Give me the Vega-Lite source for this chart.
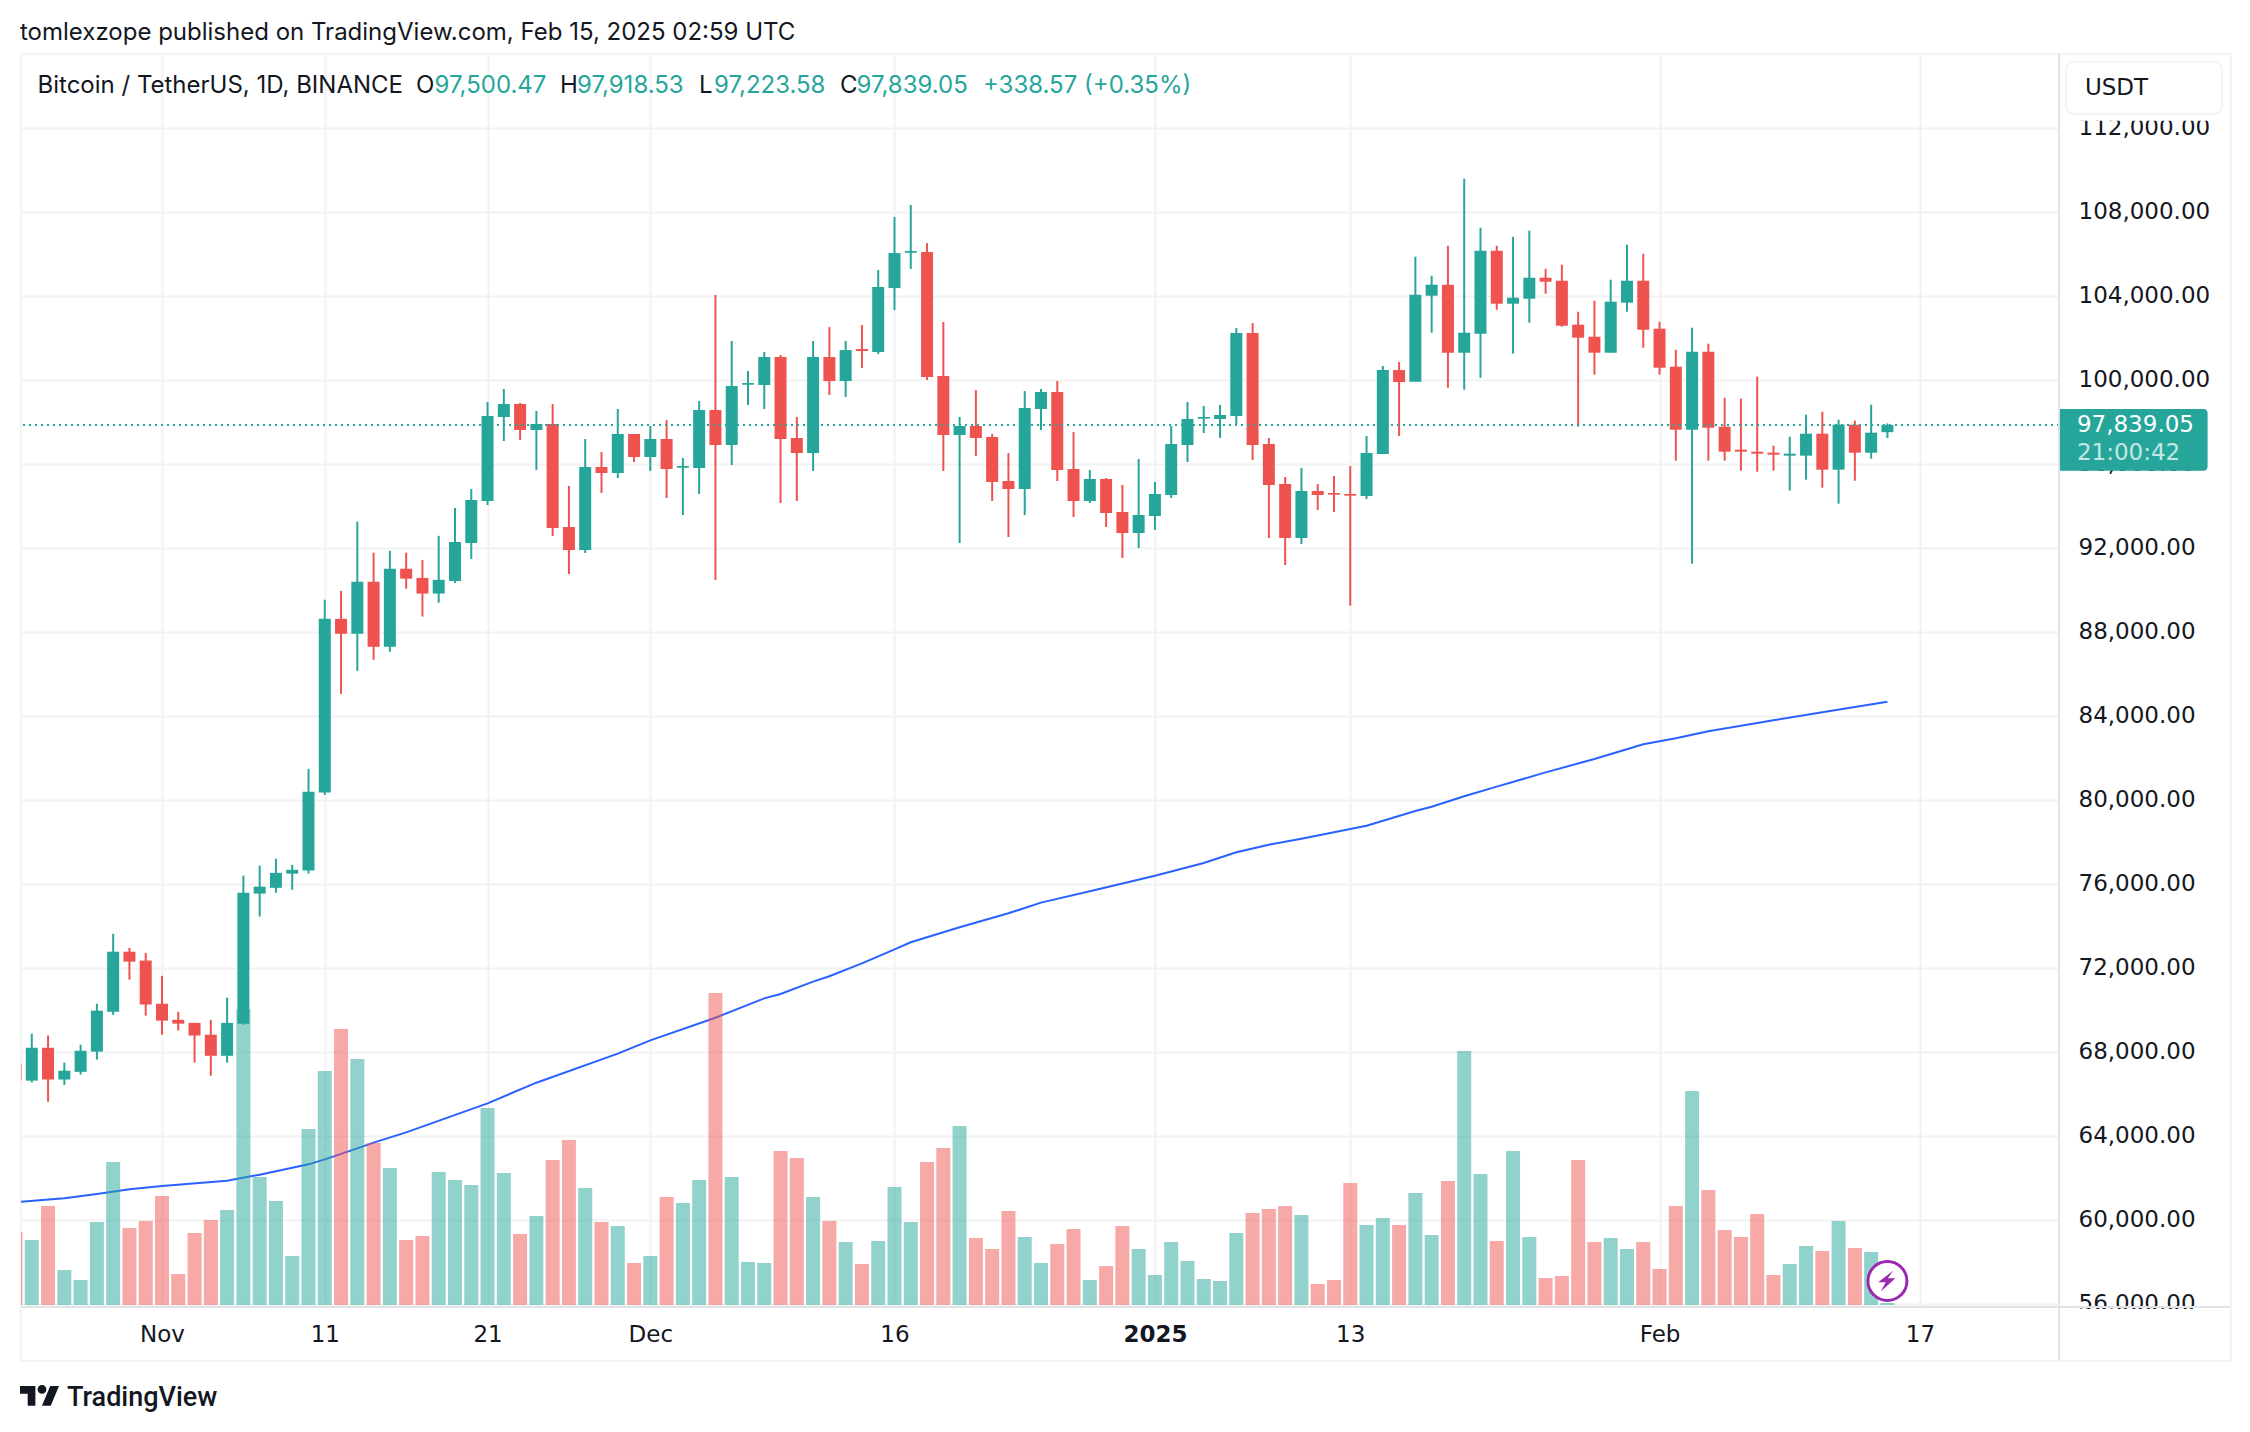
{
  "$schema": "https://vega.github.io/schema/vega-lite/v6.json",
  "width": 2038,
  "height": 1253,
  "autosize": "none",
  "padding": {"left": 21, "top": 54, "right": 191, "bottom": 125},
  "background": "#ffffff",
  "config": {
    "view": {"stroke": "#f3f3f3", "strokeWidth": 2},
    "text": {"font": "Inter", "fontSize": 24, "align": "left", "baseline": "middle", "color": "#131722"}
  },
  "datasets": {
    "candles": [
      {"date":"2024-10-23","open":67421,"high":67700,"low":66000,"close":66620,"volume":73},
      {"date":"2024-10-24","open":66620,"high":68861,"low":66528,"close":68186,"volume":65},
      {"date":"2024-10-25","open":68186,"high":68770,"low":65617,"close":66674,"volume":99},
      {"date":"2024-10-26","open":66674,"high":67476,"low":66419,"close":67093,"volume":35},
      {"date":"2024-10-27","open":67039,"high":68332,"low":66911,"close":68041,"volume":25},
      {"date":"2024-10-28","open":68000,"high":70282,"low":67622,"close":69954,"volume":83},
      {"date":"2024-10-29","open":69899,"high":73616,"low":69753,"close":72760,"volume":143},
      {"date":"2024-10-30","open":72760,"high":72942,"low":71430,"close":72286,"volume":77},
      {"date":"2024-10-31","open":72341,"high":72705,"low":69717,"close":70245,"volume":84},
      {"date":"2024-11-01","open":70282,"high":71612,"low":68806,"close":69480,"volume":109},
      {"date":"2024-11-02","open":69517,"high":69899,"low":69006,"close":69334,"volume":31},
      {"date":"2024-11-03","open":69371,"high":69371,"low":67476,"close":68769,"volume":72},
      {"date":"2024-11-04","open":68806,"high":69517,"low":66856,"close":67804,"volume":85},
      {"date":"2024-11-05","open":67804,"high":70573,"low":67476,"close":69371,"volume":95},
      {"date":"2024-11-06","open":69334,"high":76385,"low":69279,"close":75566,"volume":296},
      {"date":"2024-11-07","open":75529,"high":76859,"low":74436,"close":75857,"volume":128},
      {"date":"2024-11-08","open":75802,"high":77187,"low":75566,"close":76513,"volume":104},
      {"date":"2024-11-09","open":76477,"high":76896,"low":75711,"close":76659,"volume":49},
      {"date":"2024-11-10","open":76622,"high":81469,"low":76477,"close":80376,"volume":176},
      {"date":"2024-11-11","open":80339,"high":89522,"low":80230,"close":88611,"volume":234},
      {"date":"2024-11-12","open":88611,"high":89941,"low":85040,"close":87900,"volume":276},
      {"date":"2024-11-13","open":87900,"high":93239,"low":86133,"close":90378,"volume":246},
      {"date":"2024-11-14","open":90378,"high":91763,"low":86662,"close":87281,"volume":162},
      {"date":"2024-11-15","open":87281,"high":91854,"low":87044,"close":90998,"volume":137},
      {"date":"2024-11-16","open":90998,"high":91763,"low":90050,"close":90524,"volume":65},
      {"date":"2024-11-17","open":90561,"high":91417,"low":88720,"close":89814,"volume":69},
      {"date":"2024-11-18","open":89814,"high":92565,"low":89376,"close":90470,"volume":133},
      {"date":"2024-11-19","open":90415,"high":93890,"low":90319,"close":92271,"volume":125},
      {"date":"2024-11-20","open":92224,"high":94795,"low":91462,"close":94271,"volume":120},
      {"date":"2024-11-21","open":94223,"high":98937,"low":94033,"close":98270,"volume":197},
      {"date":"2024-11-22","open":98223,"high":99556,"low":97080,"close":98841,"volume":132},
      {"date":"2024-11-23","open":98841,"high":98889,"low":97128,"close":97604,"volume":71},
      {"date":"2024-11-24","open":97604,"high":98508,"low":95699,"close":97889,"volume":89},
      {"date":"2024-11-25","open":97889,"high":98841,"low":92557,"close":92938,"volume":145},
      {"date":"2024-11-26","open":92985,"high":94937,"low":90748,"close":91890,"volume":165},
      {"date":"2024-11-27","open":91890,"high":97175,"low":91748,"close":95842,"volume":117},
      {"date":"2024-11-28","open":95842,"high":96556,"low":94604,"close":95556,"volume":83},
      {"date":"2024-11-29","open":95556,"high":98603,"low":95318,"close":97413,"volume":79},
      {"date":"2024-11-30","open":97413,"high":97413,"low":96080,"close":96318,"volume":42},
      {"date":"2024-12-01","open":96318,"high":97794,"low":95652,"close":97175,"volume":49},
      {"date":"2024-12-02","open":97175,"high":98080,"low":94366,"close":95747,"volume":108},
      {"date":"2024-12-03","open":95810,"high":96271,"low":93557,"close":95890,"volume":102},
      {"date":"2024-12-04","open":95794,"high":98984,"low":94557,"close":98556,"volume":125},
      {"date":"2024-12-05","open":98556,"high":104031,"low":90462,"close":96889,"volume":312},
      {"date":"2024-12-06","open":96889,"high":101841,"low":95937,"close":99698,"volume":128},
      {"date":"2024-12-07","open":99762,"high":100413,"low":98794,"close":99841,"volume":43},
      {"date":"2024-12-08","open":99746,"high":101317,"low":98603,"close":101079,"volume":42},
      {"date":"2024-12-09","open":101079,"high":101174,"low":94128,"close":97175,"volume":154},
      {"date":"2024-12-10","open":97223,"high":98223,"low":94223,"close":96509,"volume":147},
      {"date":"2024-12-11","open":96509,"high":101841,"low":95652,"close":101079,"volume":108},
      {"date":"2024-12-12","open":101079,"high":102507,"low":99270,"close":99937,"volume":84},
      {"date":"2024-12-13","open":99937,"high":101841,"low":99175,"close":101412,"volume":63},
      {"date":"2024-12-14","open":101460,"high":102603,"low":100555,"close":101365,"volume":41},
      {"date":"2024-12-15","open":101317,"high":105221,"low":101222,"close":104412,"volume":64},
      {"date":"2024-12-16","open":104364,"high":107745,"low":103317,"close":106031,"volume":118},
      {"date":"2024-12-17","open":106046,"high":108316,"low":105269,"close":106126,"volume":83},
      {"date":"2024-12-18","open":106078,"high":106507,"low":99984,"close":100127,"volume":143},
      {"date":"2024-12-19","open":100175,"high":102746,"low":95652,"close":97366,"volume":157},
      {"date":"2024-12-20","open":97366,"high":98223,"low":92224,"close":97794,"volume":179},
      {"date":"2024-12-21","open":97794,"high":99508,"low":96366,"close":97223,"volume":67},
      {"date":"2024-12-22","open":97270,"high":97413,"low":94223,"close":95128,"volume":56},
      {"date":"2024-12-23","open":95176,"high":96509,"low":92509,"close":94795,"volume":94},
      {"date":"2024-12-24","open":94795,"high":99460,"low":93557,"close":98651,"volume":68},
      {"date":"2024-12-25","open":98603,"high":99556,"low":97604,"close":99413,"volume":42},
      {"date":"2024-12-26","open":99413,"high":99937,"low":95176,"close":95699,"volume":61},
      {"date":"2024-12-27","open":95747,"high":97508,"low":93462,"close":94223,"volume":76},
      {"date":"2024-12-28","open":94223,"high":95699,"low":94128,"close":95271,"volume":25},
      {"date":"2024-12-29","open":95271,"high":95318,"low":92985,"close":93652,"volume":39},
      {"date":"2024-12-30","open":93700,"high":94985,"low":91510,"close":92700,"volume":79},
      {"date":"2024-12-31","open":92700,"high":96223,"low":91986,"close":93557,"volume":56},
      {"date":"2025-01-01","open":93509,"high":95128,"low":92843,"close":94557,"volume":30},
      {"date":"2025-01-02","open":94509,"high":97794,"low":94366,"close":96937,"volume":63},
      {"date":"2025-01-03","open":96889,"high":98937,"low":96080,"close":98127,"volume":44},
      {"date":"2025-01-04","open":98143,"high":98746,"low":97461,"close":98223,"volume":26},
      {"date":"2025-01-05","open":98127,"high":98794,"low":97223,"close":98318,"volume":24},
      {"date":"2025-01-06","open":98270,"high":102460,"low":97889,"close":102222,"volume":72},
      {"date":"2025-01-07","open":102222,"high":102698,"low":96175,"close":96889,"volume":92},
      {"date":"2025-01-08","open":96937,"high":97223,"low":92462,"close":94985,"volume":96},
      {"date":"2025-01-09","open":95033,"high":95366,"low":91176,"close":92462,"volume":99},
      {"date":"2025-01-10","open":92462,"high":95794,"low":92176,"close":94699,"volume":90},
      {"date":"2025-01-11","open":94699,"high":95033,"low":93795,"close":94509,"volume":21},
      {"date":"2025-01-12","open":94604,"high":95414,"low":93700,"close":94525,"volume":25},
      {"date":"2025-01-13","open":94557,"high":95890,"low":89243,"close":94477,"volume":122},
      {"date":"2025-01-14","open":94461,"high":97318,"low":94319,"close":96509,"volume":80},
      {"date":"2025-01-15","open":96461,"high":100651,"low":96461,"close":100460,"volume":87},
      {"date":"2025-01-16","open":100460,"high":100841,"low":97318,"close":99889,"volume":80},
      {"date":"2025-01-17","open":99905,"high":105856,"low":99905,"close":104047,"volume":112},
      {"date":"2025-01-18","open":103999,"high":104951,"low":102238,"close":104523,"volume":70},
      {"date":"2025-01-19","open":104523,"high":106380,"low":99619,"close":101285,"volume":124},
      {"date":"2025-01-20","open":101285,"high":109570,"low":99524,"close":102238,"volume":254},
      {"date":"2025-01-21","open":102190,"high":107237,"low":100095,"close":106142,"volume":131},
      {"date":"2025-01-22","open":106142,"high":106380,"low":103333,"close":103618,"volume":64},
      {"date":"2025-01-23","open":103618,"high":106808,"low":101238,"close":103904,"volume":154},
      {"date":"2025-01-24","open":103856,"high":107094,"low":102714,"close":104856,"volume":68},
      {"date":"2025-01-25","open":104856,"high":105285,"low":104094,"close":104666,"volume":27},
      {"date":"2025-01-26","open":104713,"high":105475,"low":102523,"close":102571,"volume":29},
      {"date":"2025-01-27","open":102619,"high":103237,"low":97762,"close":102000,"volume":145},
      {"date":"2025-01-28","open":102047,"high":103761,"low":100238,"close":101285,"volume":63},
      {"date":"2025-01-29","open":101285,"high":104761,"low":101285,"close":103714,"volume":67},
      {"date":"2025-01-30","open":103666,"high":106427,"low":103237,"close":104713,"volume":56},
      {"date":"2025-01-31","open":104713,"high":105999,"low":101524,"close":102380,"volume":63},
      {"date":"2025-02-01","open":102428,"high":102761,"low":100238,"close":100571,"volume":36},
      {"date":"2025-02-02","open":100619,"high":101428,"low":96144,"close":97620,"volume":99},
      {"date":"2025-02-03","open":97620,"high":102476,"low":91240,"close":101333,"volume":214},
      {"date":"2025-02-04","open":101333,"high":101714,"low":96144,"close":97715,"volume":115},
      {"date":"2025-02-05","open":97762,"high":99143,"low":96144,"close":96572,"volume":75},
      {"date":"2025-02-06","open":96667,"high":99095,"low":95667,"close":96572,"volume":68},
      {"date":"2025-02-07","open":96572,"high":100143,"low":95620,"close":96477,"volume":91},
      {"date":"2025-02-08","open":96524,"high":96858,"low":95667,"close":96429,"volume":30},
      {"date":"2025-02-09","open":96382,"high":97286,"low":94715,"close":96477,"volume":41},
      {"date":"2025-02-10","open":96382,"high":98334,"low":95239,"close":97429,"volume":59},
      {"date":"2025-02-11","open":97429,"high":98476,"low":94858,"close":95715,"volume":54},
      {"date":"2025-02-12","open":95715,"high":98096,"low":94096,"close":97858,"volume":84},
      {"date":"2025-02-13","open":97858,"high":98048,"low":95191,"close":96524,"volume":57},
      {"date":"2025-02-14","open":96524,"high":98810,"low":96239,"close":97477,"volume":53},
      {"date":"2025-02-15","open":97500.47,"high":97918.53,"low":97223.58,"close":97839.05,"volume":2}
    ],
    "ma": [
      {"date":"2024-10-23","ma":60830},{"date":"2024-10-26","ma":61016},{"date":"2024-10-28","ma":61223},
      {"date":"2024-10-30","ma":61445},{"date":"2024-11-01","ma":61604},{"date":"2024-11-05","ma":61858},
      {"date":"2024-11-07","ma":62143},{"date":"2024-11-09","ma":62476},{"date":"2024-11-10","ma":62635},
      {"date":"2024-11-11","ma":62873},{"date":"2024-11-13","ma":63397},{"date":"2024-11-14","ma":63667},
      {"date":"2024-11-16","ma":64159},{"date":"2024-11-21","ma":65539},{"date":"2024-11-24","ma":66523},
      {"date":"2024-11-29","ma":67904},{"date":"2024-12-01","ma":68539},{"date":"2024-12-05","ma":69618},
      {"date":"2024-12-08","ma":70538},{"date":"2024-12-09","ma":70749},{"date":"2024-12-11","ma":71336},
      {"date":"2024-12-12","ma":71590},{"date":"2024-12-14","ma":72208},{"date":"2024-12-16","ma":72875},
      {"date":"2024-12-17","ma":73208},{"date":"2024-12-18","ma":73446},{"date":"2024-12-20","ma":73922},
      {"date":"2024-12-23","ma":74589},{"date":"2024-12-25","ma":75097},{"date":"2024-12-28","ma":75636},
      {"date":"2025-01-01","ma":76382},{"date":"2025-01-04","ma":76985},{"date":"2025-01-06","ma":77493},
      {"date":"2025-01-08","ma":77858},{"date":"2025-01-10","ma":78144},{"date":"2025-01-13","ma":78604},
      {"date":"2025-01-14","ma":78763},{"date":"2025-01-17","ma":79461},{"date":"2025-01-18","ma":79667},
      {"date":"2025-01-20","ma":80160},{"date":"2025-01-22","ma":80620},{"date":"2025-01-25","ma":81302},
      {"date":"2025-01-28","ma":81937},{"date":"2025-01-31","ma":82635},{"date":"2025-02-02","ma":82921},
      {"date":"2025-02-04","ma":83254},{"date":"2025-02-08","ma":83778},{"date":"2025-02-11","ma":84159},
      {"date":"2025-02-15","ma":84667}
    ]
  },
  "data": {"name": "candles"},
  "resolve": {"scale": {"y": "independent"}},
  "layer": [
    {
      "layer": [
        {
          "data": {"name": "ma"},
          "mark": {"type": "line", "color": "#2962ff", "strokeWidth": 2, "clip": true},
          "encoding": {
            "x": {
              "field": "date", "type": "temporal", "title": null,
              "scale": {"type": "utc", "padding": 0, "domain": [{"year":2024,"month":10,"date":23,"hours":8,"minutes":7,"utc":true}, {"year":2025,"month":2,"date":25,"hours":12,"minutes":58,"utc":true}], "nice": false},
              "axis": {
                "values": [{"year":2024,"month":11,"date":1,"utc":true},{"year":2024,"month":11,"date":11,"utc":true},{"year":2024,"month":11,"date":21,"utc":true},{"year":2024,"month":12,"date":1,"utc":true},{"year":2024,"month":12,"date":16,"utc":true},{"year":2025,"month":1,"date":1,"utc":true},{"year":2025,"month":1,"date":13,"utc":true},{"year":2025,"month":2,"date":1,"utc":true},{"year":2025,"month":2,"date":17,"utc":true}],
                "labelExpr": "utcdate(datum.value)==1 ? (utcmonth(datum.value)==0 ? utcFormat(datum.value,'%Y') : utcFormat(datum.value,'%b')) : utcdate(datum.value)",
                "labelFontWeight": {"condition": {"test": "utcmonth(datum.value)==0 && utcdate(datum.value)==1", "value": 700}, "value": 400},
                "labelFont": "DejaVu Sans", "labelFontSize": 23, "labelColor": "#131722", "labelPadding": 16, "labelOverlap": false, "labelBound": false, "labelFlush": false,
                "ticks": false, "domain": false, "grid": true, "gridColor": "#f2f2f3", "gridWidth": 2
              }
            },
            "y": {
              "field": "ma", "type": "quantitative", "title": null,
              "scale": {"domain": [55841, 115510], "nice": false, "zero": false},
              "axis": {
                "orient": "right", "values": [56000,60000,64000,68000,72000,76000,80000,84000,88000,92000,96000,100000,104000,108000,112000],
                "format": ",.2f", "labelFont": "DejaVu Sans", "labelFontSize": 23, "labelColor": "#131722", "labelPadding": 19, "labelOverlap": false, "labelBound": false, "labelFlush": false,
                "ticks": false, "domain": false, "grid": true, "gridColor": "#f2f2f3", "gridWidth": 2
              }
            }
          }
        }
      ]
    },
    {
      "mark": {"type": "bar", "size": 14, "opacity": 0.5, "clip": true},
      "encoding": {
        "x": {"field": "date", "type": "temporal"},
        "y": {"field": "volume", "type": "quantitative", "axis": null, "scale": {"domain": [-2, 1251], "nice": false, "zero": false}},
        "y2": {"datum": 0},
        "color": {"condition": {"test": "datum.close < datum.open", "value": "#ef5350"}, "value": "#26a69a"}
      }
    },
    {
      "layer": [
        {
          "mark": {"type": "rule", "strokeWidth": 2, "clip": true},
          "encoding": {
            "x": {"field": "date", "type": "temporal"},
            "y": {"field": "high", "type": "quantitative", "axis": null, "scale": {"domain": [55841, 115510], "nice": false, "zero": false}},
            "y2": {"field": "low"},
            "color": {"condition": {"test": "datum.close < datum.open", "value": "#ef5350"}, "value": "#26a69a"}
          }
        },
        {
          "mark": {"type": "bar", "size": 12, "clip": true},
          "encoding": {
            "x": {"field": "date", "type": "temporal"},
            "y": {"field": "open", "type": "quantitative", "axis": null},
            "y2": {"field": "close"},
            "color": {"condition": {"test": "datum.close < datum.open", "value": "#ef5350"}, "value": "#26a69a"}
          }
        },
        {
          "data": {"values": [{}]},
          "layer": [
            {
              "mark": {"type": "rule", "color": "#26a69a", "strokeWidth": 2, "strokeDash": [2, 4]},
              "encoding": {"y": {"datum": 97839.05, "axis": null}}
            },
            {
              "mark": {"type": "rect", "fill": "#ffffff"},
              "encoding": {
                "x": {"datum": {"year":2025,"month":2,"date":25,"hours":16,"utc":true}},
                "x2": {"datum": {"year":2025,"month":3,"date":7,"hours":22,"utc":true}},
                "y": {"datum": 55746, "axis": null},
                "y2": {"datum": 54746}
              }
            },
            {
              "mark": {"type": "rule", "color": "#e2e3e6", "strokeWidth": 2},
              "encoding": {
                "x": {"datum": {"year":2025,"month":2,"date":25,"hours":12,"minutes":58,"utc":true}},
                "y": {"datum": 115510, "axis": null},
                "y2": {"datum": 53270}
              }
            },
            {
              "mark": {"type": "rule", "color": "#e2e3e6", "strokeWidth": 2},
              "encoding": {
                "x": {"datum": {"year":2024,"month":10,"date":23,"hours":8,"minutes":7,"utc":true}},
                "x2": {"datum": {"year":2025,"month":3,"date":8,"hours":2,"minutes":24,"utc":true}},
                "y": {"datum": 55841, "axis": null}
              }
            },
            {
              "mark": {"type": "rule", "color": "#f3f3f3", "strokeWidth": 2},
              "encoding": {
                "x": {"datum": {"year":2025,"month":3,"date":8,"hours":2,"minutes":24,"utc":true}},
                "y": {"datum": 115510, "axis": null},
                "y2": {"datum": 53270}
              }
            },
            {
              "mark": {"type": "rule", "color": "#f3f3f3", "strokeWidth": 2},
              "encoding": {
                "x": {"datum": {"year":2025,"month":2,"date":25,"hours":12,"minutes":58,"utc":true}},
                "x2": {"datum": {"year":2025,"month":3,"date":8,"hours":2,"minutes":24,"utc":true}},
                "y": {"datum": 115510, "axis": null}
              }
            },
            {
              "mark": {"type": "rule", "color": "#f3f3f3", "strokeWidth": 2},
              "encoding": {
                "x": {"datum": {"year":2024,"month":10,"date":23,"hours":8,"minutes":7,"utc":true}},
                "x2": {"datum": {"year":2025,"month":3,"date":8,"hours":2,"minutes":24,"utc":true}},
                "y": {"datum": 53270, "axis": null}
              }
            },
            {
              "mark": {"type": "rule", "color": "#f3f3f3", "strokeWidth": 2},
              "encoding": {
                "x": {"datum": {"year":2024,"month":10,"date":23,"hours":8,"minutes":7,"utc":true}},
                "y": {"datum": 55841, "axis": null},
                "y2": {"datum": 53270}
              }
            },
            {
              "mark": {"type": "rect", "fill": "#ffffff"},
              "encoding": {
                "x": {"datum": {"year":2025,"month":2,"date":25,"hours":23,"minutes":17,"utc":true}},
                "x2": {"datum": {"year":2025,"month":3,"date":7,"hours":13,"minutes":12,"utc":true}},
                "y": {"datum": 112653, "axis": null},
                "y2": {"datum": 112334}
              }
            },
            {
              "mark": {"type": "rect", "fill": "#ffffff", "stroke": "#f0f1f3", "strokeWidth": 1.5, "cornerRadius": 8},
              "encoding": {
                "x": {"datum": {"year":2025,"month":2,"date":25,"hours":23,"minutes":17,"utc":true}},
                "x2": {"datum": {"year":2025,"month":3,"date":7,"hours":13,"minutes":12,"utc":true}},
                "y": {"datum": 115143, "axis": null},
                "y2": {"datum": 112653}
              }
            },
            {
              "mark": {"type": "text", "font": "DejaVu Sans", "fontSize": 23},
              "encoding": {
                "x": {"datum": {"year":2025,"month":2,"date":27,"hours":3,"minutes":10,"utc":true}},
                "y": {"datum": 113891, "axis": null},
                "text": {"value": "USDT"}
              }
            },
            {
              "mark": {"type": "rect", "fill": "#26a69a", "cornerRadiusTopRight": 4, "cornerRadiusBottomRight": 4},
              "encoding": {
                "x": {"datum": {"year":2025,"month":2,"date":25,"hours":14,"minutes":24,"utc":true}},
                "x2": {"datum": {"year":2025,"month":3,"date":6,"hours":16,"minutes":5,"utc":true}},
                "y": {"datum": 98605, "axis": null},
                "y2": {"datum": 95667}
              }
            },
            {
              "mark": {"type": "text", "font": "DejaVu Sans", "fontSize": 23, "color": "#ffffff"},
              "encoding": {
                "x": {"datum": {"year":2025,"month":2,"date":26,"hours":15,"minutes":22,"utc":true}},
                "y": {"datum": 97843, "axis": null},
                "text": {"value": "97,839.05"}
              }
            },
            {
              "mark": {"type": "text", "font": "DejaVu Sans", "fontSize": 23, "color": "#c4e7e3"},
              "encoding": {
                "x": {"datum": {"year":2025,"month":2,"date":26,"hours":15,"minutes":22,"utc":true}},
                "y": {"datum": 96524, "axis": null},
                "text": {"value": "21:00:42"}
              }
            },
            {
              "mark": {"type": "text"},
              "encoding": {
                "x": {"datum": {"year":2024,"month":10,"date":23,"hours":6,"minutes":39,"utc":true}},
                "y": {"datum": 116524, "axis": null},
                "text": {"value": "tomlexzope published on TradingView.com, Feb 15, 2025 02:59 UTC"}
              }
            },
            {
              "mark": {"type": "text"},
              "encoding": {"x": {"datum": {"year":2024,"month":10,"date":24,"hours":8,"minutes":27,"utc":true}}, "y": {"datum": 113986, "axis": null}, "text": {"value": "Bitcoin / TetherUS, 1D, BINANCE"}}
            },
            {
              "mark": {"type": "text"},
              "encoding": {"x": {"datum": {"year":2024,"month":11,"date":16,"hours":14,"minutes":30,"utc":true}}, "y": {"datum": 113986, "axis": null}, "text": {"value": "O"}}
            },
            {
              "mark": {"type": "text", "color": "#26a69a"},
              "encoding": {"x": {"datum": {"year":2024,"month":11,"date":17,"hours":17,"minutes":56,"utc":true}}, "y": {"datum": 113986, "axis": null}, "text": {"value": "97,500.47"}}
            },
            {
              "mark": {"type": "text"},
              "encoding": {"x": {"datum": {"year":2024,"month":11,"date":25,"hours":10,"minutes":48,"utc":true}}, "y": {"datum": 113986, "axis": null}, "text": {"value": "H"}}
            },
            {
              "mark": {"type": "text", "color": "#26a69a"},
              "encoding": {"x": {"datum": {"year":2024,"month":11,"date":26,"hours":11,"minutes":53,"utc":true}}, "y": {"datum": 113986, "axis": null}, "text": {"value": "97,918.53"}}
            },
            {
              "mark": {"type": "text"},
              "encoding": {"x": {"datum": {"year":2024,"month":12,"date":3,"hours":23,"minutes":46,"utc":true}}, "y": {"datum": 113986, "axis": null}, "text": {"value": "L"}}
            },
            {
              "mark": {"type": "text", "color": "#26a69a"},
              "encoding": {"x": {"datum": {"year":2024,"month":12,"date":4,"hours":21,"minutes":50,"utc":true}}, "y": {"datum": 113986, "axis": null}, "text": {"value": "97,223.58"}}
            },
            {
              "mark": {"type": "text"},
              "encoding": {"x": {"datum": {"year":2024,"month":12,"date":12,"hours":15,"minutes":36,"utc":true}}, "y": {"datum": 113986, "axis": null}, "text": {"value": "C"}}
            },
            {
              "mark": {"type": "text", "color": "#26a69a"},
              "encoding": {"x": {"datum": {"year":2024,"month":12,"date":13,"hours":15,"minutes":57,"utc":true}}, "y": {"datum": 113986, "axis": null}, "text": {"value": "97,839.05"}}
            },
            {
              "mark": {"type": "text", "color": "#26a69a"},
              "encoding": {"x": {"datum": {"year":2024,"month":12,"date":21,"hours":10,"minutes":28,"utc":true}}, "y": {"datum": 113986, "axis": null}, "text": {"value": "+338.57 (+0.35%)"}}
            },
            {
              "mark": {"type": "text", "font": "Roboto", "fontSize": 27, "fontWeight": 500},
              "encoding": {"x": {"datum": {"year":2024,"month":10,"date":26,"hours":3,"minutes":56,"utc":true}}, "y": {"datum": 51508, "axis": null}, "text": {"value": "TradingView"}}
            },
            {
              "mark": {"type": "point", "filled": true, "size": 1521, "color": "#131722", "opacity": 1, "shape": "M-0.211,0.507H-0.606V-0.113H-1V-0.507H-0.211ZM0.577,0.507H0.127L0.549,-0.507H1ZM-0.098,-0.338A0.225,0.225 0 1 1 0.352,-0.338A0.225,0.225 0 1 1 -0.098,-0.338Z"},
              "encoding": {"x": {"datum": {"year":2024,"month":10,"date":24,"hours":11,"minutes":24,"utc":true}}, "y": {"datum": 51604, "axis": null}}
            },
            {
              "mark": {"type": "point", "shape": "circle", "filled": false, "size": 1521, "fill": "#ffffff", "fillOpacity": 1, "stroke": "#9c27b0", "strokeWidth": 3, "opacity": 1},
              "encoding": {"x": {"datum": {"year":2025,"month":2,"date":15,"utc":true}}, "y": {"datum": 57080, "axis": null}}
            },
            {
              "mark": {"type": "point", "filled": true, "size": 1444, "color": "#9c27b0", "opacity": 1, "shape": "M0.30,-0.54L-0.49,0.07L-0.09,0.07L-0.35,0.56L0.42,-0.14L0.02,-0.14Z"},
              "encoding": {"x": {"datum": {"year":2025,"month":2,"date":15,"utc":true}}, "y": {"datum": 57080, "axis": null}}
            }
          ]
        }
      ]
    }
  ]
}
